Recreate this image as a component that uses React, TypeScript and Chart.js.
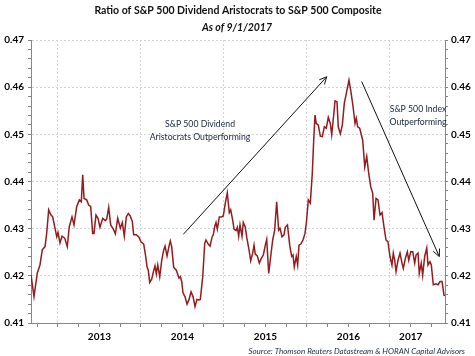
import React, { useEffect, useRef } from 'react';
import { Chart, registerables } from 'chart.js';

Chart.register(...registerables);

// Decimal-year dates (weekly-ish samples) and the ratio values
const dates = [
  2012.675, 2012.711, 2012.751, 2012.783, 2012.811, 2012.844, 2012.864, 2012.888, 2012.912, 2012.936,
  2012.985, 2013.000, 2013.024, 2013.049, 2013.081, 2013.112, 2013.136, 2013.169, 2013.193, 2013.226,
  2013.257, 2013.281, 2013.298, 2013.314, 2013.346, 2013.370, 2013.394, 2013.418, 2013.434, 2013.458,
  2013.482, 2013.506, 2013.539, 2013.570, 2013.587, 2013.611, 2013.635, 2013.667, 2013.691, 2013.720,
  2013.751, 2013.775, 2013.799, 2013.823, 2013.847, 2013.871, 2013.896, 2013.912, 2013.944, 2013.976,
  2014.000, 2014.033, 2014.057, 2014.073, 2014.088, 2014.105, 2014.129, 2014.153, 2014.169, 2014.185,
  2014.202, 2014.226, 2014.250, 2014.274, 2014.290, 2014.314, 2014.338, 2014.353, 2014.370, 2014.394,
  2014.426, 2014.458, 2014.474, 2014.491, 2014.506, 2014.530, 2014.555, 2014.579, 2014.603, 2014.627,
  2014.651, 2014.675, 2014.699, 2014.715, 2014.744, 2014.768, 2014.783, 2014.808, 2014.832, 2014.856,
  2014.871, 2014.888, 2014.904, 2014.920, 2014.944, 2014.968, 2014.992, 2015.016, 2015.040, 2015.064,
  2015.081, 2015.105, 2015.121, 2015.145, 2015.161, 2015.177, 2015.193, 2015.217, 2015.233, 2015.257,
  2015.274, 2015.298, 2015.322, 2015.346, 2015.362, 2015.377, 2015.402, 2015.426, 2015.450, 2015.474,
  2015.498, 2015.515, 2015.539, 2015.563, 2015.587, 2015.611, 2015.635, 2015.659, 2015.675, 2015.699,
  2015.723, 2015.739, 2015.765, 2015.792, 2015.816, 2015.832, 2015.847, 2015.871, 2015.888, 2015.904,
  2015.928, 2015.952, 2015.976, 2015.992, 2016.016, 2016.040, 2016.064, 2016.081, 2016.097, 2016.112,
  2016.136, 2016.161, 2016.185, 2016.209, 2016.233, 2016.257, 2016.281, 2016.298, 2016.322, 2016.338,
  2016.362, 2016.377, 2016.402, 2016.426, 2016.450, 2016.474, 2016.506, 2016.530, 2016.555, 2016.579,
  2016.594, 2016.611, 2016.635, 2016.671, 2016.696, 2016.720, 2016.744, 2016.768, 2016.792, 2016.808,
  2016.832, 2016.856, 2016.880, 2016.904, 2016.928, 2016.952, 2016.976, 2017.000, 2017.024, 2017.040,
  2017.057, 2017.073, 2017.097, 2017.121, 2017.145, 2017.161, 2017.185, 2017.209, 2017.226, 2017.250,
  2017.274, 2017.298, 2017.314, 2017.338, 2017.353, 2017.377, 2017.394, 2017.418, 2017.443, 2017.458,
  2017.482, 2017.498, 2017.522, 2017.555, 2017.579, 2017.603, 2017.627, 2017.651, 2017.663,
];

const ratio = [
  0.4202, 0.4156, 0.4206, 0.4223, 0.4255, 0.4262, 0.4290, 0.4340, 0.4330, 0.4325,
  0.4283, 0.4292, 0.4270, 0.4284, 0.4280, 0.4262, 0.4304, 0.4325, 0.4308, 0.4347,
  0.4361, 0.4357, 0.4414, 0.4364, 0.4361, 0.4350, 0.4347, 0.4290, 0.4290, 0.4329,
  0.4322, 0.4303, 0.4322, 0.4317, 0.4320, 0.4345, 0.4308, 0.4299, 0.4289, 0.4322,
  0.4301, 0.4313, 0.4284, 0.4325, 0.4332, 0.4327, 0.4315, 0.4287, 0.4287, 0.4282,
  0.4272, 0.4267, 0.4241, 0.4219, 0.4212, 0.4186, 0.4193, 0.4211, 0.4221, 0.4204,
  0.4223, 0.4198, 0.4233, 0.4255, 0.4263, 0.4242, 0.4263, 0.4274, 0.4262, 0.4218,
  0.4212, 0.4195, 0.4198, 0.4188, 0.4164, 0.4156, 0.4140, 0.4150, 0.4166, 0.4156,
  0.4135, 0.4150, 0.4149, 0.4150, 0.4198, 0.4269, 0.4276, 0.4268, 0.4263, 0.4282,
  0.4287, 0.4304, 0.4313, 0.4299, 0.4325, 0.4325, 0.4327, 0.4354, 0.4376, 0.4334,
  0.4340, 0.4318, 0.4299, 0.4296, 0.4303, 0.4284, 0.4308, 0.4284, 0.4313, 0.4303,
  0.4282, 0.4259, 0.4232, 0.4248, 0.4265, 0.4246, 0.4242, 0.4227, 0.4237, 0.4244,
  0.4265, 0.4277, 0.4205, 0.4241, 0.4276, 0.4297, 0.4357, 0.4297, 0.4301, 0.4283,
  0.4287, 0.4303, 0.4308, 0.4265, 0.4241, 0.4244, 0.4219, 0.4241, 0.4223, 0.4265,
  0.4268, 0.4276, 0.4290, 0.4311, 0.4361, 0.4354, 0.4417, 0.4488, 0.4541, 0.4523,
  0.4520, 0.4496, 0.4495, 0.4516, 0.4513, 0.4536, 0.4523, 0.4499, 0.4541, 0.4571,
  0.4569, 0.4516, 0.4501, 0.4520, 0.4566, 0.4587, 0.4615, 0.4590, 0.4559, 0.4523,
  0.4534, 0.4516, 0.4513, 0.4488, 0.4431, 0.4453, 0.4417, 0.4389, 0.4375, 0.4318,
  0.4364, 0.4361, 0.4329, 0.4334, 0.4304, 0.4276, 0.4272, 0.4241, 0.4223, 0.4248,
  0.4233, 0.4209, 0.4233, 0.4248, 0.4227, 0.4216, 0.4237, 0.4251, 0.4233, 0.4251,
  0.4251, 0.4227, 0.4244, 0.4248, 0.4205, 0.4227, 0.4201, 0.4241, 0.4259, 0.4223,
  0.4230, 0.4223, 0.4181, 0.4183, 0.4181, 0.4188, 0.4188, 0.4159, 0.4158,
];

const yearLabels = ['2013', '2014', '2015', '2016', '2017'];
const yearLabelPos = [2013.5, 2014.5, 2015.5, 2016.5, 2017.25];
const xMin = 2012.675;
const xMax = 2017.663;
const yMin = 0.41;
const yMax = 0.47;

const titleText = 'Ratio of S&P 500 Dividend Aristocrats to S&P 500 Composite';
const subtitleText = 'As of 9/1/2017';
const sourceText = 'Source: Thomson Reuters Datastream & HORAN Capital Advisors';

const noteLines = [
  { text: 'S&P 500 Dividend', x: 2014.711, y: 0.4522 },
  { text: 'Aristocrats Outperforming', x: 2014.711, y: 0.4494 },
  { text: 'S&P 500 Index', x: 2017.338, y: 0.4554 },
  { text: 'Outperforming', x: 2017.338, y: 0.4526 },
];
const arrows = [
  { x0: 2014.51, y0: 0.4288, x1: 2016.238, y1: 0.4622 },
  { x0: 2016.659, y0: 0.4612, x1: 2017.594, y1: 0.4241 },
];

const FONT = 'Lato, "Open Sans", sans-serif';

const isMajorY = (v: number) => Math.abs(v * 100 - Math.round(v * 100)) < 1e-6;

const decorPlugin = {
  id: 'decor',
  afterDraw(chart: any) {
    const ctx = chart.ctx;
    const xs = chart.scales.x;
    const ys = chart.scales.y;
    ctx.save();
    ctx.textAlign = 'center';
    ctx.textBaseline = 'middle';
    ctx.fillStyle = '#111111';
    ctx.font = `bold 10.5px ${FONT}`;
    ctx.fillText(titleText, 238, 11);
    ctx.font = `italic bold 10.5px ${FONT}`;
    ctx.fillText(subtitleText, 237, 28);

    ctx.fillStyle = '#1A2540';
    ctx.font = `8.7px ${FONT}`;
    noteLines.forEach((n) => {
      ctx.fillText(n.text, xs.getPixelForValue(n.x), ys.getPixelForValue(n.y));
    });

    ctx.strokeStyle = '#111111';
    ctx.lineWidth = 1;
    arrows.forEach((a) => {
      const px0 = xs.getPixelForValue(a.x0);
      const py0 = ys.getPixelForValue(a.y0);
      const px1 = xs.getPixelForValue(a.x1);
      const py1 = ys.getPixelForValue(a.y1);
      ctx.beginPath();
      ctx.moveTo(px0, py0);
      ctx.lineTo(px1, py1);
      const ang = Math.atan2(py1 - py0, px1 - px0);
      const L = 8;
      const spread = 0.45;
      ctx.moveTo(px1 - L * Math.cos(ang - spread), py1 - L * Math.sin(ang - spread));
      ctx.lineTo(px1, py1);
      ctx.lineTo(px1 - L * Math.cos(ang + spread), py1 - L * Math.sin(ang + spread));
      ctx.stroke();
    });

    ctx.textAlign = 'right';
    ctx.fillStyle = '#1F2A44';
    ctx.font = `italic 8px ${FONT}`;
    ctx.fillText(sourceText, 465, 351);
    ctx.restore();
  },
};

export default function App() {
  const ref = useRef<HTMLCanvasElement>(null);
  useEffect(() => {
    if (!ref.current) return;
    const tickFont = { family: FONT, size: 10, weight: 'bold' as const };
    const yTicks = () => {
      const arr: any[] = [];
      for (let i = 0; i <= 30; i++) arr.push({ value: Math.round((yMin + i * 0.002) * 1000) / 1000 });
      return arr;
    };
    const chart = new Chart(ref.current, {
      type: 'line',
      data: {
        datasets: [
          {
            data: dates.map((d, i) => ({ x: d, y: ratio[i] })),
            borderColor: '#951B1E',
            borderWidth: 1.5,
            pointRadius: 0,
            tension: 0,
            fill: false,
          },
        ],
      },
      options: {
        responsive: false,
        animation: false,
        layout: { padding: { top: 40, left: 0, right: 0, bottom: 0 } },
        plugins: { legend: { display: false }, tooltip: { enabled: false } },
        scales: {
          x: {
            type: 'linear',
            min: xMin,
            max: xMax,
            afterBuildTicks: (s: any) => {
              const arr: any[] = [];
              for (let v = 2012.75; v <= 2017.5 + 1e-9; v += 0.25) arr.push({ value: v });
              s.ticks = arr;
            },
            afterFit: (s: any) => { s.height = 33; },
            grid: {
              color: (c: any) => (c.tick && Number.isInteger(c.tick.value) ? '#D4D4D4' : 'rgba(0,0,0,0)'),
              tickColor: '#868686',
              tickLength: 4,
              lineWidth: 1,
            },
            border: { display: true, color: '#868686', width: 1, dash: [2, 2] },
            ticks: {
              autoSkip: false,
              maxRotation: 0,
              minRotation: 0,
              padding: 4,
              color: '#000000',
              font: tickFont,
              callback: (v: any) => {
                const idx = yearLabelPos.findIndex((p) => Math.abs(p - Number(v)) < 1e-6);
                return idx >= 0 ? yearLabels[idx] : '';
              },
            },
          },
          y: {
            type: 'linear',
            position: 'left',
            min: yMin,
            max: yMax,
            afterBuildTicks: (s: any) => { s.ticks = yTicks(); },
            afterFit: (s: any) => { s.width = 31; },
            grid: {
              color: (c: any) => (c.tick && isMajorY(c.tick.value) && c.tick.value > yMin + 1e-6 ? '#D4D4D4' : 'rgba(0,0,0,0)'),
              tickColor: '#868686',
              tickLength: 3,
            },
            border: { display: true, color: '#868686', width: 1, dash: [2, 2] },
            ticks: {
              autoSkip: false,
              padding: 4,
              color: '#000000',
              font: tickFont,
              callback: (v: any) => (isMajorY(Number(v)) ? Number(v).toFixed(2) : ''),
            },
          },
          y2: {
            type: 'linear',
            position: 'right',
            min: yMin,
            max: yMax,
            afterBuildTicks: (s: any) => { s.ticks = yTicks(); },
            afterFit: (s: any) => { s.width = 30; },
            grid: {
              drawOnChartArea: false,
              color: '#868686',
              tickColor: '#868686',
              tickLength: 3,
            },
            border: { display: true, color: '#868686', width: 1 },
            ticks: {
              autoSkip: false,
              padding: 3,
              color: '#000000',
              font: tickFont,
              callback: (v: any) => (isMajorY(Number(v)) ? Number(v).toFixed(2) : ''),
            },
          },
        },
      },
      plugins: [decorPlugin],
    } as any);
    return () => chart.destroy();
  }, []);
  return (
    <div style={{ position: 'fixed', left: 0, top: 0, width: 475, height: 356, background: '#fff' }}>
      <canvas ref={ref} width={475} height={356} style={{ width: 475, height: 356 }} />
    </div>
  );
}
